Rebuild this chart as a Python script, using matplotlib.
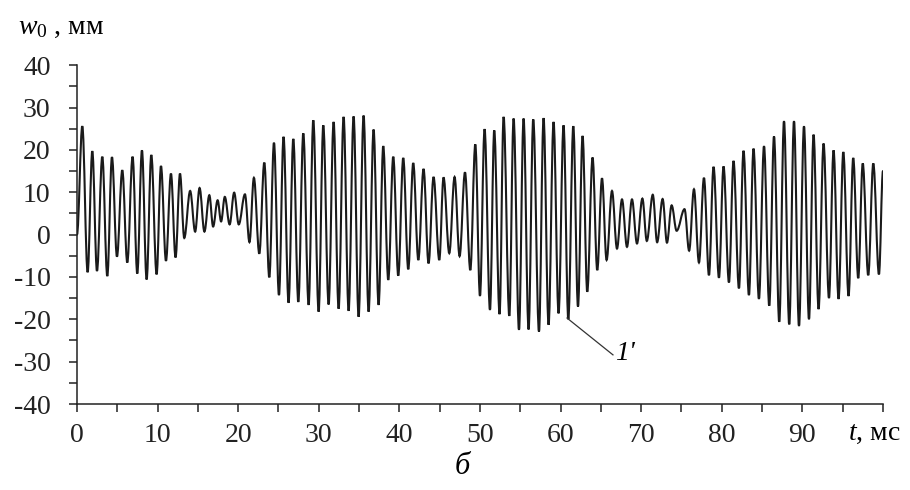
import numpy as np
import matplotlib
matplotlib.use("Agg")
import matplotlib.pyplot as plt
from matplotlib.path import Path
from matplotlib.patches import PathPatch

# --- данные: экстремумы кривой 1' (t, мс; w0, мм) ---
t_ext = [0.0, 0.66, 1.32, 1.90, 2.48, 3.14, 3.76, 4.34, 4.96, 5.62, 6.24,
         6.90, 7.48, 8.06, 8.64, 9.22, 9.88, 10.42, 11.04, 11.66, 12.23,
         12.78, 13.31, 14.04, 14.66, 15.21, 15.81, 16.42, 16.89, 17.45, 17.88,
         18.34, 18.94, 19.50, 20.07, 20.84, 21.40, 21.95, 22.62, 23.24, 23.86,
         24.44, 25.06, 25.63, 26.25, 26.84, 27.46, 28.08, 28.74, 29.32, 29.98,
         30.56, 31.22, 31.84, 32.46, 33.08, 33.70, 34.32, 34.94, 35.56, 36.18,
         36.80, 37.42, 38.00, 38.62, 39.24, 39.86, 40.48, 41.10, 41.72, 42.35,
         43.00, 43.62, 44.24, 44.95, 45.48, 46.19, 46.85, 47.47, 48.14, 48.80,
         49.42, 50.00, 50.57, 51.24, 51.77, 52.43, 52.93, 53.64, 54.17, 54.84,
         55.41, 56.03, 56.61, 57.32, 57.89, 58.51, 59.13, 59.75, 60.37, 60.96,
         61.58, 62.16, 62.73, 63.31, 63.97, 64.55, 65.14, 65.71, 66.38, 67.00,
         67.62, 68.24, 68.86, 69.48, 70.15, 70.70, 71.44, 71.98, 72.66, 73.20,
         73.78, 74.40, 75.38, 75.95, 76.55, 77.17, 77.79, 78.41, 78.98, 79.65,
         80.22, 80.89, 81.46, 82.13, 82.70, 83.37, 83.94, 84.61, 85.24, 85.89,
         86.48, 87.13, 87.72, 88.37, 88.96, 89.58, 90.20, 90.82, 91.39, 92.01,
         92.63, 93.30, 93.87, 94.49, 95.08, 95.73, 96.31, 96.93, 97.49, 98.17,
         98.80, 99.50, 100.0]
w_ext = [0.0, 25.6, -8.9, 19.7, -8.6, 18.4, -9.8, 18.3, -5.2, 15.2, -6.6,
         18.4, -9.2, 19.9, -10.6, 18.8, -9.4, 16.2, -6.2, 14.4, -5.4,
         14.4, -0.8, 10.3, 0.7, 11.0, 0.7, 9.3, 1.9, 8.1, 3.1,
         8.9, 2.4, 9.9, 2.4, 9.5, -1.8, 13.4, -4.5, 17.0, -10.1,
         21.7, -14.3, 23.1, -16.1, 22.6, -15.9, 23.9, -16.6, 27.0, -18.2,
         25.8, -16.5, 26.6, -17.5, 27.8, -18.0, 27.9, -19.4, 28.1, -18.2,
         24.8, -16.6, 20.9, -10.7, 18.4, -9.7, 18.1, -8.2, 16.9, -6.0,
         15.5, -6.8, 13.6, -6.0, 13.5, -4.4, 13.6, -5.1, 14.7, -8.4,
         21.3, -14.5, 24.9, -17.8, 24.6, -18.8, 27.8, -19.2, 27.4, -22.5,
         27.4, -22.4, 27.2, -22.9, 27.5, -21.3, 26.6, -18.6, 25.8, -20.0,
         25.6, -17.0, 23.3, -13.5, 18.2, -8.4, 13.3, -6.0, 10.3, -3.3,
         8.3, -2.9, 8.3, -2.1, 8.5, -1.5, 9.4, -1.8, 8.4, -1.9,
         6.9, 0.9, 6.0, -3.8, 10.7, -6.6, 13.4, -9.6, 16.0, -10.2,
         16.1, -11.3, 17.4, -12.7, 19.8, -14.3, 20.3, -15.2, 20.9, -16.8,
         23.2, -20.6, 26.8, -21.2, 26.8, -21.6, 25.6, -20.0, 23.6, -17.6,
         21.5, -15.0, 19.9, -15.2, 19.5, -14.5, 18.1, -10.3, 16.8, -9.6,
         16.8, -9.4, 15.0]

x_ticks = [0, 10, 20, 30, 40, 50, 60, 70, 80, 90, 100]
x_labels = ['0', '10', '20', '30', '40', '50', '60', '70', '80', '90', '']
y_ticks = [-40, -30, -20, -10, 0, 10, 20, 30, 40]

plt.rcParams['font.family'] = ['Liberation Serif', 'DejaVu Serif']
plt.rcParams['mathtext.fontset'] = 'custom'
plt.rcParams['mathtext.rm'] = 'Liberation Serif'
plt.rcParams['mathtext.it'] = 'Liberation Serif:italic'
plt.rcParams['axes.unicode_minus'] = False

fig = plt.figure(figsize=(9.1, 4.9), dpi=100)
ax = fig.add_axes([0.0846, 0.1755, 0.8857, 0.6915])

# кривая: гладкие полуволны (кубические Безье) между экстремумами
k = 0.364
verts = [(t_ext[0], w_ext[0])]
codes = [Path.MOVETO]
for i in range(1, len(t_ext)):
    t0, t1 = t_ext[i - 1], t_ext[i]
    w0, w1 = w_ext[i - 1], w_ext[i]
    dt = t1 - t0
    verts += [(t0 + k * dt, w0), (t1 - k * dt, w1), (t1, w1)]
    codes += [Path.CURVE4] * 3
ax.add_patch(PathPatch(Path(verts, codes), facecolor='none',
                       edgecolor='#1a1a1a', lw=1.5, capstyle='round'))

ax.set_xlim(0, 100)
ax.set_ylim(-40, 40)
ax.set_xticks(x_ticks)
ax.set_xticklabels(x_labels)
ax.set_xticks(np.arange(5, 100, 10), minor=True)
ax.set_yticks(y_ticks)
ax.set_yticks(np.arange(-35, 40, 10), minor=True)
ax.tick_params(which='both', direction='out', length=6, width=1.1, color='#222')
ax.tick_params(axis='y', which='major', pad=13, labelsize=20, labelcolor='#222')
ax.tick_params(axis='x', which='major', pad=8, labelsize=20, labelcolor='#222')
for s in ['top', 'right']:
    ax.spines[s].set_visible(False)
for s in ['left', 'bottom']:
    ax.spines[s].set_linewidth(1.1)
    ax.spines[s].set_color('#222')

# выноска 1'
ax.plot([60.8, 66.5], [-19.7, -28.4], color='#333', lw=0.9)
ax.text(66.8, -28.0, "1'", fontsize=20, style='italic', va='center', ha='left')

fig.text(18 / 910, 1 - 27 / 490, "$w_0$ , мм", fontsize=20, va='center', ha='left')
fig.text(848 / 910, 1 - 433 / 490, "$t$, мс", fontsize=20, va='center', ha='left')
fig.text(462 / 910, 1 - 466 / 490, "б", fontsize=22, style='italic',
         va='center', ha='center')

fig.savefig('out.png', dpi=100)
